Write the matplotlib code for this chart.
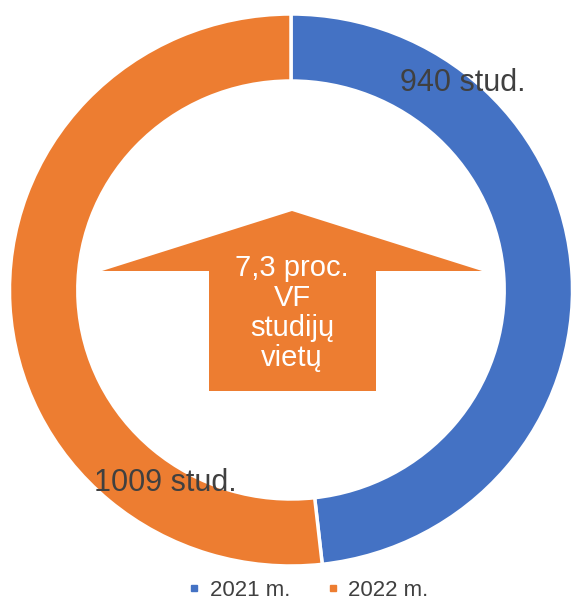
import matplotlib
matplotlib.use("Agg")
import matplotlib.pyplot as plt
from matplotlib.patches import Polygon
from matplotlib.lines import Line2D

categories = ["2021 m.", "2022 m."]
values = [940, 1009]
colors = ["#4472C4", "#ED7D31"]
center_text = "7,3 proc.\nVF\nstudijų\nvietų"

W, H = 571, 602
SX = 1.02  # slight horizontal stretch seen in the reference
fig = plt.figure(figsize=(W / 100, H / 100), dpi=100)
ax = fig.add_axes([0, 0, 1, 1])

def X(px):
    return px / SX

def Y(py):
    return H - py

cx, cy = X(291), Y(290)
R, r = 276, 209

wedges, _ = ax.pie(values, colors=colors, startangle=90, counterclock=False,
                   center=(cx, cy), radius=R,
                   wedgeprops=dict(width=R - r, edgecolor="white", linewidth=2.5))

ax.set_xlim(0, W / SX)
ax.set_ylim(0, H)
ax.set_aspect("auto")
ax.axis("off")

font = "Liberation Sans"
label_pos = [(463, 83), (165, 483)]
for v, (px, py) in zip(values, label_pos):
    ax.text(X(px), Y(py), f"{v} stud.", ha="center", va="center",
            fontsize=22, color="#404040", family=font)

# up arrow
arrow = Polygon([(X(292), Y(211)), (X(482), Y(271)), (X(376), Y(271)), (X(376), Y(391)),
                 (X(209), Y(391)), (X(209), Y(271)), (X(102), Y(271))],
                closed=True, facecolor="#ED7D31", edgecolor="none")
ax.add_patch(arrow)
ax.text(X(292), Y(313), center_text, ha="center", va="center", fontsize=21,
        color="white", family=font, linespacing=1.08)

handles = [Line2D([], [], marker="s", linestyle="none", markersize=5,
                  markerfacecolor=c, markeredgecolor=c) for c in colors]
fig.legend(handles, categories, loc="center", bbox_to_anchor=(308 / W, 1 - 590 / H),
           ncol=2, frameon=False, handlelength=0.6, handletextpad=0.4,
           columnspacing=1.6, prop=dict(family=font, size=16),
           labelcolor="#404040")

fig.savefig("out.png", dpi=100)
